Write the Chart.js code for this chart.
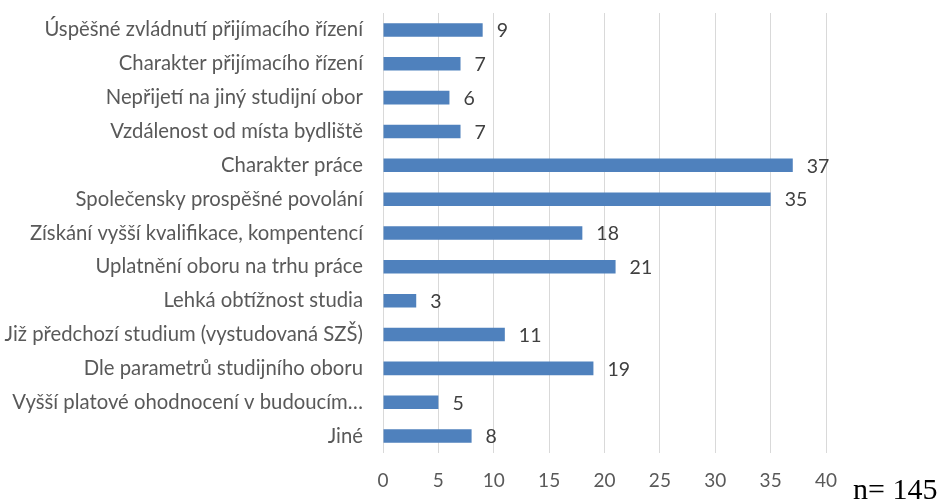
<!DOCTYPE html>
<html>
<head>
<meta charset="utf-8">
<script src="https://cdn.jsdelivr.net/npm/chart.js@4/dist/chart.umd.min.js"></script>
<style>
  html, body { margin: 0; padding: 0; background: #fff; }
</style>
</head>
<body>
<canvas id="chart" width="944" height="500"></canvas>
<script>
  // categories and counts, top to bottom as in the picture
  const categories = [
    'Úspěšné zvládnutí přijímacího řízení',
    'Charakter přijímacího řízení',
    'Nepřijetí na jiný studijní obor',
    'Vzdálenost od místa bydliště',
    'Charakter práce',
    'Společensky prospěšné povolání',
    'Získání vyšší kvalifikace, kompentencí',
    'Uplatnění oboru na trhu práce',
    'Lehká obtížnost studia',
    'Již předchozí studium (vystudovaná SZŠ)',
    'Dle parametrů studijního oboru',
    'Vyšší platové ohodnocení v budoucím…',
    'Jiné'
  ];
  const counts = [9, 7, 6, 7, 37, 35, 18, 21, 3, 11, 19, 5, 8];
  const xTicks = [0, 5, 10, 15, 20, 25, 30, 35, 40];
  const noteText = 'n= 145';

  const FONT = 'Lato, "Open Sans", sans-serif';

  // value next to each bar + the n= note in the corner
  const valueLabels = {
    id: 'valueLabels',
    afterDatasetsDraw(chart) {
      const ctx = chart.ctx;
      const meta = chart.getDatasetMeta(0);
      ctx.save();
      ctx.font = '19.5px ' + FONT;
      ctx.fillStyle = '#404040';
      ctx.textAlign = 'left';
      ctx.textBaseline = 'middle';
      meta.data.forEach((bar, i) => {
        ctx.fillText(String(counts[i]), bar.x + 14, bar.y + 1);
      });
      ctx.font = '30px "Liberation Serif", "Times New Roman", serif';
      ctx.fillStyle = '#000';
      ctx.textBaseline = 'alphabetic';
      ctx.fillText(noteText, 853, 499);
      ctx.restore();
    }
  };

  const ctx = document.getElementById('chart').getContext('2d');
  new Chart(ctx, {
    type: 'bar',
    data: {
      labels: categories,
      datasets: [{
        data: counts,
        backgroundColor: '#4F81BD',
        borderWidth: 0,
        barPercentage: 0.4,
        categoryPercentage: 1.0
      }]
    },
    options: {
      indexAxis: 'y',
      responsive: false,
      animation: false,
      layout: { padding: { top: 13, right: 118, bottom: 0, left: 0 } },
      plugins: {
        legend: { display: false },
        tooltip: { enabled: false }
      },
      scales: {
        x: {
          min: 0,
          max: 40,
          afterBuildTicks(axis) { axis.ticks = xTicks.map(v => ({ value: v })); },
          afterFit(axis) { axis.height = 47; axis.paddingLeft = 0; axis.paddingRight = 0; },
          grid: { color: '#d9d9d9', drawTicks: false },
          border: { display: false },
          ticks: {
            padding: 16,
            color: '#595959',
            font: { family: FONT, size: 19 }
          }
        },
        y: {
          afterFit(axis) { axis.width = 383; axis.paddingTop = 0; axis.paddingBottom = 0; },
          grid: { display: false, drawTicks: false },
          border: { display: false },
          ticks: {
            padding: 20,
            autoSkip: false,
            color: '#595959',
            font: { family: FONT, size: 20.3 }
          }
        }
      }
    },
    plugins: [valueLabels]
  });
</script>
</body>
</html>
